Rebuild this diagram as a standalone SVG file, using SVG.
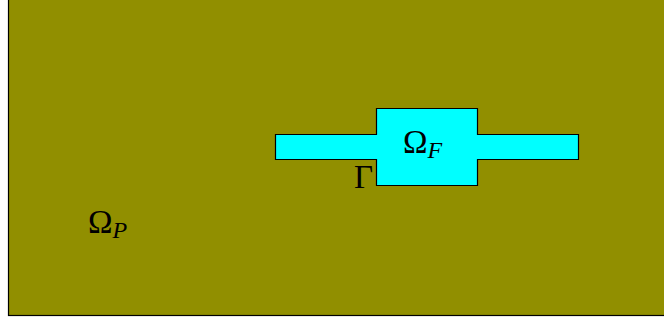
<svg xmlns="http://www.w3.org/2000/svg" width="664" height="320" viewBox="0 0 664 320">
<style>
.lbl{font-family:"Liberation Serif","DejaVu Serif",serif;fill:#000}
.sub{font-style:italic}
</style>
<rect width="664" height="320" fill="#ffffff"/>
<g id="domainP">
<rect x="8.5" y="-5" width="665" height="320.5" fill="#918F00" stroke="#000" stroke-width="1.2"/>
<text class="lbl" x="88" y="233" font-size="33">Ω<tspan class="sub" font-size="24" dy="5">P</tspan></text>
</g>
<g id="domainF">
<polygon points="275.5,134.5 376.5,134.5 376.5,108.5 477.5,108.5 477.5,134.5 578.5,134.5 578.5,159.5 477.5,159.5 477.5,185.5 376.5,185.5 376.5,159.5 275.5,159.5" fill="#00FFFF" stroke="#000" stroke-width="1.2"/>
<text class="lbl" x="403" y="153" font-size="33">Ω<tspan class="sub" font-size="24" dy="5">F</tspan></text>
</g>
<g id="gamma">
<text class="lbl" x="354" y="188" font-size="33">Γ</text>
</g>
<g id="connectors"/>
</svg>
